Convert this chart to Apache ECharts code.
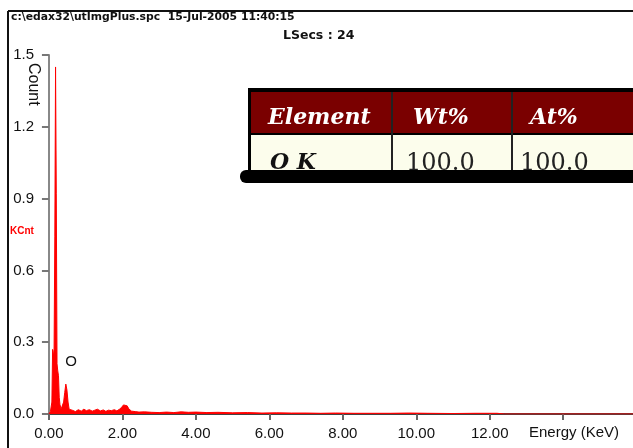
<!DOCTYPE html>
<html>
<head>
<meta charset="utf-8">
<script src="https://cdn.jsdelivr.net/npm/echarts@6/dist/echarts.min.js"></script>
<style>html,body{margin:0;padding:0;background:#fff}#c{width:633px;height:448px}</style>
</head>
<body>
<div id="c"></div>
<script>
// ---- data ----
const energyKeV = [0.00,0.04,0.08,0.10,0.12,0.14,0.16,0.18,0.20,0.22,0.24,0.26,0.28,0.30,0.33,0.36,0.40,0.43,0.46,0.49,0.52,0.55,0.58,0.65,0.72,0.80,0.88,0.95,1.02,1.10,1.18,1.25,1.32,1.40,1.48,1.55,1.62,1.70,1.78,1.85,1.92,1.98,2.03,2.08,2.13,2.18,2.25,2.35,2.45,2.60,2.80,3.00,3.20,3.40,3.60,3.80,4.00,4.30,4.60,5.00,5.40,5.80,6.20,6.60,7.00,7.40,7.80,8.30,8.80,9.30,9.80,10.30,11.00,11.60,12.20,12.40,15.90];
const countK =    [0,0.01,0.05,0.27,0.24,0.27,0.74,1.45,0.92,0.21,0.18,0.16,0.07,0.04,0.02,0.025,0.05,0.09,0.125,0.10,0.05,0.02,0.012,0.015,0.01,0.018,0.012,0.02,0.014,0.018,0.012,0.016,0.02,0.013,0.017,0.011,0.016,0.014,0.018,0.013,0.02,0.028,0.038,0.042,0.034,0.02,0.012,0.01,0.008,0.009,0.007,0.006,0.008,0.006,0.009,0.007,0.008,0.006,0.007,0.005,0.006,0.004,0.005,0.004,0.004,0.003,0.004,0.003,0.003,0.003,0.004,0.003,0.002,0.003,0.003,0,0];
const xTickValues = [0,2,4,6,8,10,12,14];
const xLabelValues = [0,2,4,6,8,10,12];
const peakLabel = {name:'O', energy:0.6, count:0.217};
const tableHeader = ['Element','Wt%','At%'];
const tableRow = ['O K','100.0','100.0'];
const titleText = 'c:\\edax32\\utImgPlus.spc  15-Jul-2005 11:40:15';
const subText = 'LSecs : 24';

const chart = echarts.init(document.getElementById('c'), null, {renderer:'canvas'});
const seriesData = energyKeV.map((e,i)=>[e,countK[i]]);

const serifF = '"DejaVu Serif", "Liberation Serif", serif';
const option = {
  backgroundColor:'#fff',
  animation:false,
  grid:{left:46, top:55, bottom:34, right:0},
  xAxis:{
    type:'value', min:-0.08, max:15.9,
    splitLine:{show:false},
    axisLine:{show:true, onZero:false, lineStyle:{color:'#444', width:2}},
    axisTick:{show:true, customValues:xTickValues, length:6, lineStyle:{color:'#666', width:2}},
    axisLabel:{customValues:xLabelValues, margin:12, color:'#111', fontSize:15, fontFamily:'Arial, "Liberation Sans", sans-serif',
      formatter:v=>v.toFixed(2)}
  },
  yAxis:{
    type:'value', min:0, max:1.5, interval:0.3,
    splitLine:{show:false},
    axisLine:{show:true, lineStyle:{color:'#888', width:2}},
    axisTick:{show:true, length:7, lineStyle:{color:'#777', width:2}},
    axisLabel:{margin:12, color:'#111', fontSize:15, fontFamily:'Arial, "Liberation Sans", sans-serif',
      formatter:v=>v.toFixed(1)}
  },
  series:[{
    type:'line', data:seriesData, symbol:'none', smooth:false,
    lineStyle:{color:'#ff0000', width:1},
    areaStyle:{color:'#ff0000', opacity:1},
    z:3,
    markPoint:{
      symbol:'circle', symbolSize:0,
      data:[{coord:[peakLabel.energy, peakLabel.count], value:peakLabel.name}],
      label:{show:true, position:'inside', formatter:peakLabel.name, color:'#111', fontSize:15, fontFamily:'Arial, sans-serif'}
    }
  }],
  graphic:[
    // frame
    {type:'line', shape:{x1:8,y1:11,x2:633,y2:11}, style:{stroke:'#111', lineWidth:2}},
    {type:'line', shape:{x1:8,y1:11,x2:8,y2:448}, style:{stroke:'#111', lineWidth:2}},
    {type:'text', x:11, y:12, style:{text:titleText, font:'bold 10.8px "DejaVu Sans", Verdana, sans-serif', fill:'#111'}},
    {type:'text', x:283, y:29, style:{text:subText, font:'bold 12.5px "DejaVu Sans", Verdana, sans-serif', fill:'#111'}},
    {type:'text', x:41, y:63, rotation:-Math.PI/2, style:{text:'Count', font:'16px Arial, "Liberation Sans", sans-serif', fill:'#111'}},
    {type:'text', x:10, y:226, style:{text:'KCnt', font:'bold 10px Arial, "Liberation Sans", sans-serif', fill:'#ff0000'}},
    {type:'text', x:529, y:425, style:{text:'Energy (KeV)', font:'15px Arial, "Liberation Sans", sans-serif', fill:'#111'}},
    // table
    {type:'rect', shape:{x:248,y:88,width:400,height:84}, style:{fill:'#000'}},
    {type:'rect', shape:{x:251,y:92,width:400,height:41}, style:{fill:'#7a0000'}},
    {type:'rect', shape:{x:251,y:135,width:400,height:36}, style:{fill:'#fcfdec'}},
    {type:'rect', shape:{x:391,y:92,width:2,height:79}, style:{fill:'#222'}},
    {type:'rect', shape:{x:511,y:92,width:2,height:79}, style:{fill:'#222'}},
    {type:'text', x:268, y:118, style:{text:tableHeader[0], font:'italic bold 22px '+serifF, fill:'#fff', textVerticalAlign:'middle'}},
    {type:'text', x:413, y:118, style:{text:tableHeader[1], font:'italic bold 22px '+serifF, fill:'#fff', textVerticalAlign:'middle'}},
    {type:'text', x:530, y:118, style:{text:tableHeader[2], font:'italic bold 22px '+serifF, fill:'#fff', textVerticalAlign:'middle'}},
    {type:'text', x:270, y:163, style:{text:tableRow[0], font:'italic bold 22px '+serifF, fill:'#111', textVerticalAlign:'middle'}},
    {type:'text', x:406, y:164, style:{text:tableRow[1], font:'24px '+serifF, fill:'#222', textVerticalAlign:'middle'}},
    {type:'text', x:520, y:164, style:{text:tableRow[2], font:'24px '+serifF, fill:'#222', textVerticalAlign:'middle'}},
    {type:'rect', shape:{x:240,y:170,width:400,height:13, r:[6,0,0,6]}, style:{fill:'#000'}, z:200}
  ]
};
chart.setOption(option);
</script>
</body>
</html>
